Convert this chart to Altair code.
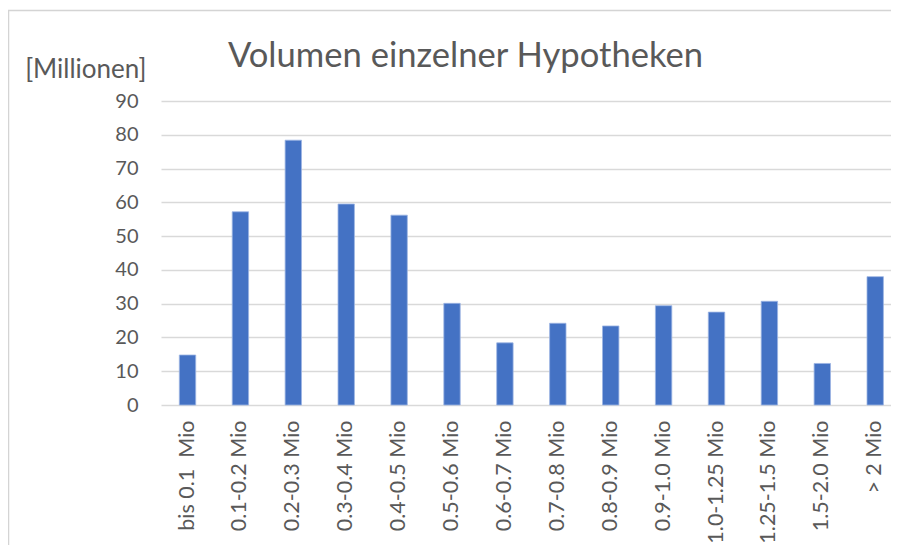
import altair as alt
import pandas as pd

categories = ["bis 0.1 \u00a0Mio", "0.1-0.2 Mio", "0.2-0.3 Mio", "0.3-0.4 Mio", "0.4-0.5 Mio",
              "0.5-0.6 Mio", "0.6-0.7 Mio", "0.7-0.8 Mio", "0.8-0.9 Mio", "0.9-1.0 Mio",
              "1.0-1.25 Mio", "1.25-1.5 Mio", "1.5-2.0 Mio", "> 2 Mio"]
values = [14.8, 57.2, 78.4, 59.5, 56.2, 30.1, 18.4, 24.2, 23.4, 29.4, 27.5, 30.7, 12.3, 38.0]
y_ticks = [0, 10, 20, 30, 40, 50, 60, 70, 80, 90]
title_text = "Volumen einzelner Hypotheken"

df = pd.DataFrame({"cat": categories, "val": values})
one = pd.DataFrame({"t": [title_text]})

FONT = "Lato"
TXT = "#595959"

bars = alt.Chart(df).mark_bar(color="#4472C4", stroke="#9db5e3", strokeWidth=0.8).encode(
    x=alt.X("cat:N", sort=categories,
            scale=alt.Scale(paddingInner=0.69, paddingOuter=0.245, align=0.707),
            axis=alt.Axis(title=None, labelAngle=-90, labelAlign="right", labelBaseline="middle",
                          labelPadding=15, ticks=False, domain=False, labelFont=FONT,
                          labelFontSize=21.5, labelColor=TXT, grid=False)),
    y=alt.Y("val:Q", scale=alt.Scale(domain=[0, 90], nice=False),
            axis=alt.Axis(values=y_ticks, title="[Millionen]", titleAngle=0, titleAlign="right",
                          titleBaseline="alphabetic", titleX=-15, titleY=-24, titleFont=FONT,
                          titleFontSize=26, titleFontWeight="normal", titleColor=TXT,
                          labelFont=FONT, labelFontSize=20, labelColor=TXT, labelPadding=23,
                          ticks=False, domain=False, grid=True, gridColor="#d9d9d9",
                          gridWidth=1.4)),
)

border = alt.Chart(one).mark_rect(fill=None, stroke="#d4d4d4", strokeWidth=1.5, clip=False).encode(
    x=alt.value(-152.5), x2=alt.value(800), y=alt.value(-90.5), y2=alt.value(600)
)
title = alt.Chart(one).mark_text(font=FONT, fontSize=34.6, color=TXT, align="center",
                                 baseline="alphabetic", clip=False).encode(
    x=alt.value(304.5), y=alt.value(-34), text="t:N"
)

chart = alt.layer(border, bars, title).properties(
    width=730,
    height=304,
    autosize="none",
    padding={"left": 153, "top": 93, "right": 0, "bottom": 140},
).configure_view(stroke=None)

chart.save("out.html", embed_options={"renderer": "svg", "actions": False})
